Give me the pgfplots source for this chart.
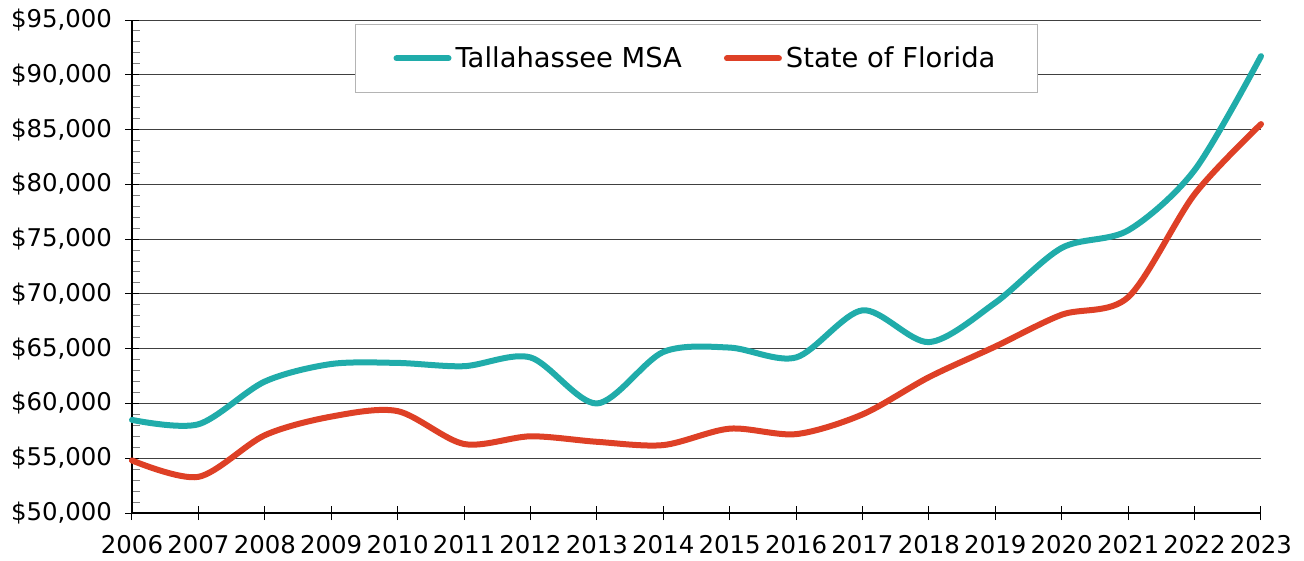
\documentclass[border=0pt]{standalone}
\usepackage{pgfplots}
\pgfplotsset{compat=1.18}
\usepackage{fontspec}
\setmainfont{DejaVu Sans}
\definecolor{tealc}{RGB}{32,172,170}
\definecolor{redc}{RGB}{222,64,38}
\definecolor{legbord}{RGB}{180,180,180}
\begin{document}
\begin{tikzpicture}
\begin{axis}[
  scale only axis,
  width=564.5pt, height=246.5pt,
  xmin=2006, xmax=2023,
  ymin=50000, ymax=95000,
  axis x line*=bottom, axis y line*=left,
  axis line style={black, line width=0.6pt},
  xtick={2006,...,2023},
  xticklabels={2006,2007,2008,2009,2010,2011,2012,2013,2014,2015,2016,2017,2018,2019,2020,2021,2022,2023},
  ytick={50000,55000,...,95000},
  yticklabels={{\$50,000},{\$55,000},{\$60,000},{\$65,000},{\$70,000},{\$75,000},{\$80,000},{\$85,000},{\$90,000},{\$95,000}},
  minor y tick num=4,
  tick align=center,
  major tick length=7pt,
  minor tick length=4pt,
  minor y tick style={xshift=2pt, line width=0.5pt},
  major tick style={line width=0.5pt, black},
  ymajorgrids,
  grid style={black!75, line width=0.5pt},
  tick label style={font=\fontsize{12.2}{14}\selectfont},
  yticklabel style={xshift=-3pt},
  xticklabel style={yshift=-4pt},
  scaled y ticks=false,
  clip=false,
  legend columns=2,
  legend style={at={(0.5,0.992)}, anchor=north, draw=legbord, line width=0.6pt, fill=white,
    font=\fontsize{13.7}{15.5}\selectfont, inner xsep=19pt, inner ysep=9pt,
    /tikz/every even column/.append style={column sep=19pt}},
  legend image code/.code={\draw[#1, line width=3pt, line cap=round] (0pt,0pt) -- (26pt,0pt);},
]
\addplot[tealc, line width=3pt, line cap=round, smooth, tension=0.5] coordinates {
(2006,58500) (2007,58100) (2008,62000) (2009,63600) (2010,63700) (2011,63400)
(2012,64200) (2013,60000) (2014,64700) (2015,65100) (2016,64200) (2017,68500)
(2018,65600) (2019,69200) (2020,74200) (2021,75800) (2022,81300) (2023,91700)};
\addlegendentry{Tallahassee MSA}
\addplot[redc, line width=3pt, line cap=round, smooth, tension=0.5] coordinates {
(2006,54800) (2007,53300) (2008,57100) (2009,58800) (2010,59300) (2011,56300)
(2012,57000) (2013,56500) (2014,56200) (2015,57700) (2016,57200) (2017,59000)
(2018,62400) (2019,65200) (2020,68100) (2021,69700) (2022,79100) (2023,85500)};
\addlegendentry{State of Florida}
\end{axis}
\path (current axis.south west) ++(-66pt,-22.5pt) rectangle ++(652pt,279pt);
\end{tikzpicture}
\end{document}
